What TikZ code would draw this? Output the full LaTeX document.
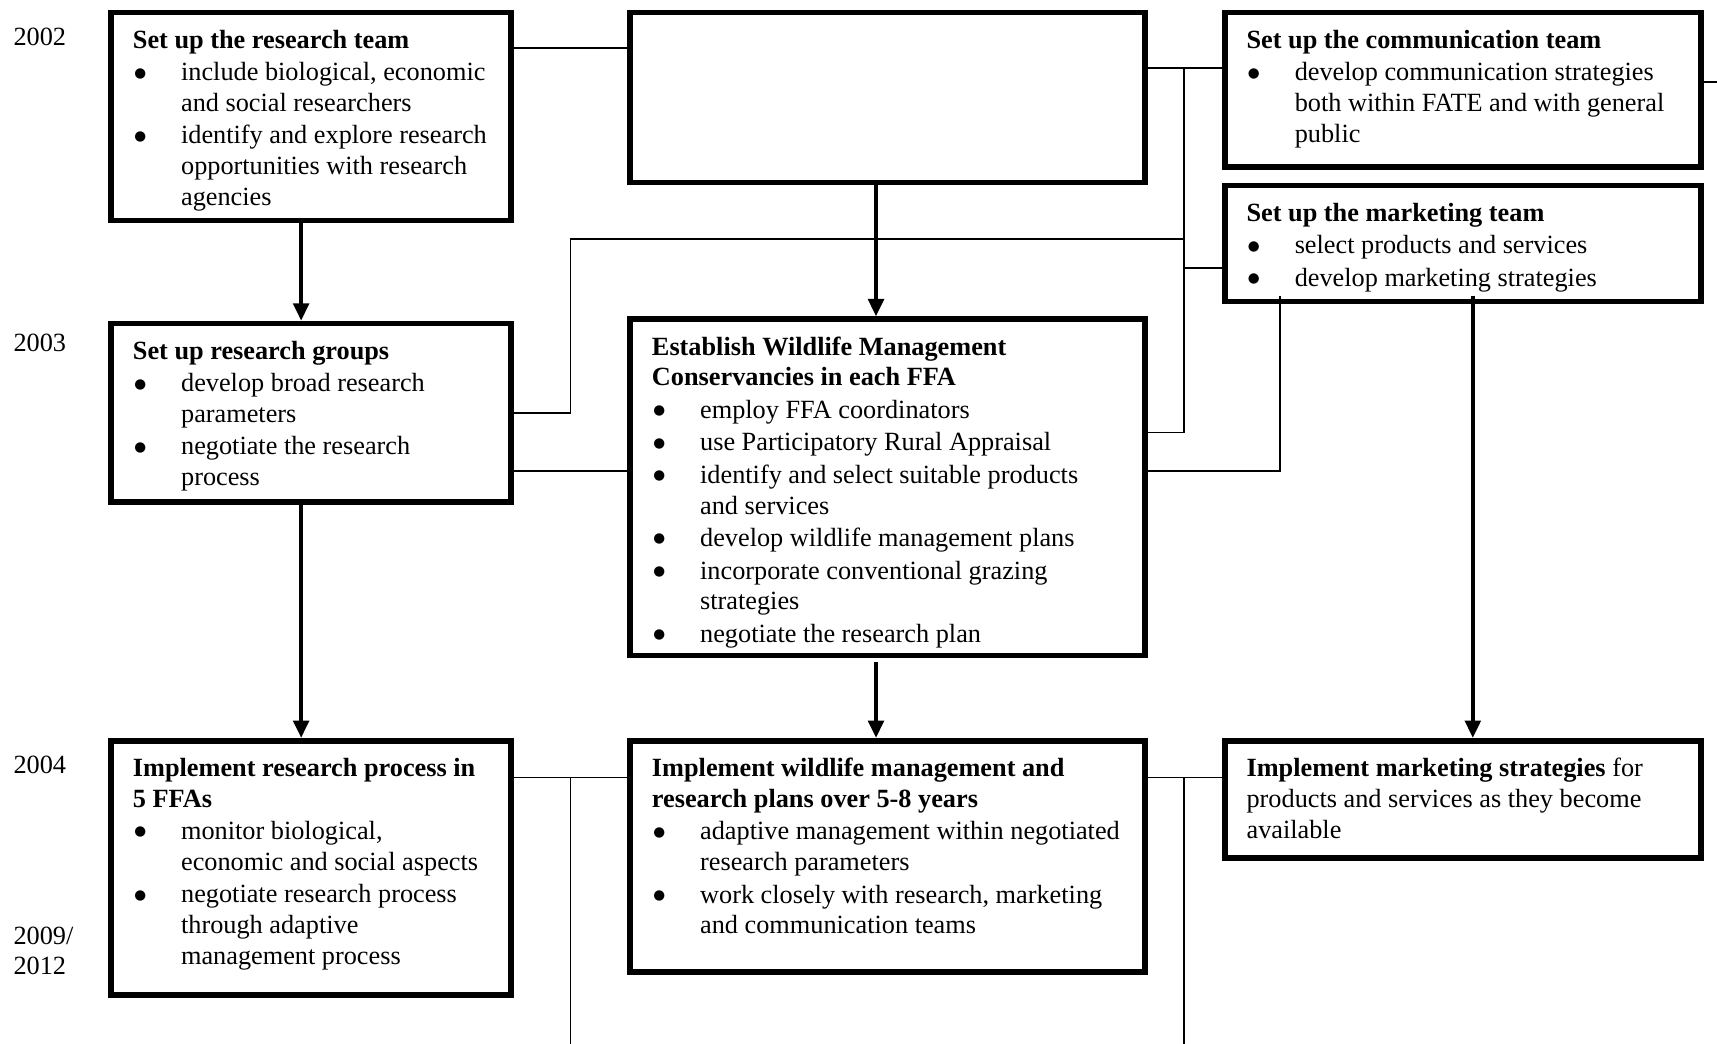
\documentclass[tikz,border=0pt]{standalone}
\usepackage{fontspec}
\setmainfont{Liberation Serif}
\newfontfamily\dotfont{DejaVu Sans}
\usetikzlibrary{arrows.meta}
\newcommand\bl{\makebox[22pt][l]{\hspace{0.6pt}\raisebox{1.7pt}{\dotfont\fontsize{6.2}{7}\selectfont ●}}}
\newcommand\ind{\hspace*{22pt}}
\begin{document}
\begin{tikzpicture}[x=0.5pt,y=-0.5pt,
    box/.style={draw, line width=2.5pt, anchor=north west, inner sep=0pt},
    txt/.style={anchor=north west, align=left, inner sep=0pt, font=\fontsize{12}{14}\selectfont},
    link/.style={line width=0.75pt},
    flow/.style={line width=2pt, -{Triangle[length=8pt,width=7pt]}}]
    \useasboundingbox (0,0) rectangle (1568,953);
    % Years
    \node[txt] (y2002) at (12,25) {2002};
    \node[txt] (y2003) at (12,305) {2003};
    \node[txt] (y2004) at (12,690) {2004};
    \node[txt] (y2009) at (12,846) {2009/\\2012};

    % Boxes
    \node[box, minimum width=182.5pt, minimum height=95pt] (rteam) at (99,9) {};
    \node[box, minimum width=235pt, minimum height=77.5pt] (empty) at (573,9) {};
    \node[box, minimum width=217.5pt, minimum height=70.5pt] (comm) at (1116,9) {};
    \node[box, minimum width=217.5pt, minimum height=53pt] (mkt) at (1116,167) {};
    \node[box, minimum width=182.5pt, minimum height=81.5pt] (rgrp) at (99,293) {};
    \node[box, minimum width=235pt, minimum height=153.5pt] (wmc) at (573,289) {};
    \node[box, minimum width=182.5pt, minimum height=116pt] (impres) at (99,674) {};
    \node[box, minimum width=235pt, minimum height=105.5pt] (impwm) at (573,674) {};
    \node[box, minimum width=217.5pt, minimum height=53.5pt] (impmkt) at (1116,674) {};

    % Box texts
    \node[txt] (rteam-t) at ([xshift=11pt,yshift=-9pt]rteam.north west) {%
        \textbf{Set up the research team}\\[0.85pt]
        \bl include biological, economic\\
        \ind and social researchers\\[0.85pt]
        \bl identify and explore research\\
        \ind opportunities with research\\
        \ind agencies};
    \node[txt] (comm-t) at ([xshift=11pt,yshift=-9pt]comm.north west) {%
        \textbf{Set up the communication team}\\[0.85pt]
        \bl develop communication strategies\\
        \ind both within FATE and with general\\
        \ind public};
    \node[txt] (mkt-t) at ([xshift=11pt,yshift=-9pt]mkt.north west) {%
        \textbf{Set up the marketing team}\\[0.85pt]
        \bl select products and services\\[0.85pt]
        \bl develop marketing strategies};
    \node[txt] (rgrp-t) at ([xshift=11pt,yshift=-9pt]rgrp.north west) {%
        \textbf{Set up research groups}\\[0.85pt]
        \bl develop broad research\\
        \ind parameters\\[0.85pt]
        \bl negotiate the research\\
        \ind process};
    \node[txt] (wmc-t) at ([xshift=11pt,yshift=-9pt]wmc.north west) {%
        \textbf{Establish Wildlife Management}\\
        \textbf{Conservancies in each FFA}\\[0.85pt]
        \bl employ FFA coordinators\\[0.85pt]
        \bl use Participatory Rural Appraisal\\[0.85pt]
        \bl identify and select suitable products\\
        \ind and services\\[0.85pt]
        \bl develop wildlife management plans\\[0.85pt]
        \bl incorporate conventional grazing\\
        \ind strategies\\[0.85pt]
        \bl negotiate the research plan};
    \node[txt] (impres-t) at ([xshift=11pt,yshift=-9pt]impres.north west) {%
        \textbf{Implement research process in}\\
        \textbf{5 FFAs}\\[0.85pt]
        \bl monitor biological,\\
        \ind economic and social aspects\\[0.85pt]
        \bl negotiate research process\\
        \ind through adaptive\\
        \ind management process};
    \node[txt] (impwm-t) at ([xshift=11pt,yshift=-9pt]impwm.north west) {%
        \textbf{Implement wildlife management and}\\
        \textbf{research plans over 5-8 years}\\[0.85pt]
        \bl adaptive management within negotiated\\
        \ind research parameters\\[0.85pt]
        \bl work closely with research, marketing\\
        \ind and communication teams};
    \node[txt] (impmkt-t) at ([xshift=11pt,yshift=-9pt]impmkt.north west) {%
        \textbf{Implement marketing strategies} for\\
        products and services as they become\\
        available};

    % Thin links
    \coordinate (busL) at (521,0);
    \coordinate (busR) at (1081,0);
    \draw[link] (rteam.east |- 0,44) -- (empty.west |- 0,44);
    \draw[link] (empty.east |- 0,62) -- (comm.west |- 0,62);
    \draw[link] (busR |- 0,62) -- (busR |- 0,395) -- (wmc.east |- 0,395);
    \draw[link] (rgrp.east |- 0,377) -- (busL |- 0,377) -- (busL |- 0,218) -- (busR |- 0,218);
    \draw[link] (busR |- 0,245) -- (mkt.west |- 0,245);
    \draw[link] (wmc.east |- 0,430) -- (1169,430) -- ([yshift=4pt]mkt.south -| 1169,0);
    \draw[link] (rgrp.east |- 0,430) -- (wmc.west |- 0,430);
    \draw[link] (comm.east |- 0,75) -- (1568,75);
    \draw[link] (impres.east |- 0,710) -- (impwm.west |- 0,710);
    \draw[link] (impwm.east |- 0,710) -- (impmkt.west |- 0,710);
    \draw[link] (busL |- 0,710) -- (busL |- 0,953);
    \draw[link] (busR |- 0,710) -- (busR |- 0,953);

    % Thick arrows
    \draw[flow] (rteam.south -| 275,0) -- (rgrp.north -| 275,0);
    \draw[flow] (empty.south -| 800,0) -- (wmc.north -| 800,0);
    \draw[flow] (rgrp.south -| 275,0) -- (impres.north -| 275,0);
    \draw[flow] ([yshift=-2pt]wmc.south -| 800,0) -- (impwm.north -| 800,0);
    \draw[flow] ([yshift=4pt]mkt.south -| 1345,0) -- (impmkt.north -| 1345,0);
\end{tikzpicture}
\end{document}
